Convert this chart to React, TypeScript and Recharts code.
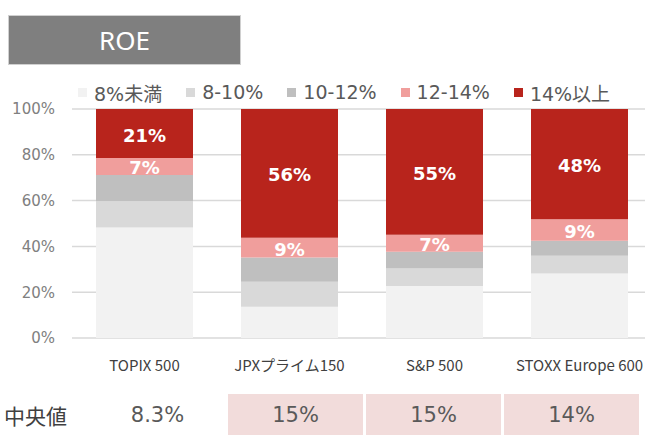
import React from 'react';
import { BarChart, Bar, XAxis, YAxis, CartesianGrid, LabelList } from 'recharts';

// ROE distribution by index (share of companies, %)
const indices = ['TOPIX 500', 'JPXプライム150', 'S&P 500', 'STOXX Europe 600'];
const bandNames = ['8%未満', '8-10%', '10-12%', '12-14%', '14%以上'];
const bandColors = ['#F2F2F2', '#D9D9D9', '#BFBFBF', '#F09E9C', '#B8241C'];

const under8 = [48.2, 13.7, 22.7, 28.2];
const from8to10 = [11.5, 10.9, 7.7, 7.7];
const from10to12 = [11.5, 10.5, 7.3, 6.6];
const from12to14 = [7.4, 8.7, 7.4, 9.4];
const over14 = [21.4, 56.2, 54.9, 48.1];

const yTicks = [0, 20, 40, 60, 80, 100];
const medianLabel = '中央値';
const medians = ['8.3%', '15%', '15%', '14%'];

const series = [under8, from8to10, from10to12, from12to14, over14];
const keys = ['b0', 'b1', 'b2', 'b3', 'b4'];

const data = indices.map((name, i) => {
  const row: Record<string, string | number> = { name };
  series.forEach((s, k) => {
    row[keys[k]] = s[i];
  });
  return row;
});

const latin = '"DejaVu Sans", "Noto Sans CJK JP", sans-serif';

function renderLabel(props: any) {
  const { x, y, width, height, value } = props;
  return (
    <text
      x={x + width / 2}
      y={y + height / 2 + 3}
      textAnchor="middle"
      dominantBaseline="middle"
      fill="#FFFFFF"
      fontSize={18}
      fontWeight="bold"
      fontFamily={latin}
    >
      {Math.round(value) + '%'}
    </text>
  );
}

export default function App() {
  return (
    <div
      style={{
        position: 'absolute',
        left: 0,
        top: 0,
        width: 645,
        height: 441,
        overflow: 'hidden',
        background: '#FFFFFF',
      }}
    >
      {/* title box */}
      <div
        style={{
          position: 'absolute',
          left: 8,
          top: 15,
          width: 233,
          height: 50,
          boxSizing: 'border-box',
          background: '#7F7F7F',
          border: '1px solid #D0D0D0',
          color: '#FFFFFF',
          fontFamily: '"Noto Sans", sans-serif',
          fontSize: 26,
          display: 'flex',
          alignItems: 'center',
          justifyContent: 'center',
        }}
      >
        ROE
      </div>

      {/* legend */}
      <div
        style={{
          position: 'absolute',
          left: 78,
          top: 80,
          height: 24,
          display: 'flex',
          alignItems: 'center',
          gap: 24,
          fontFamily: latin,
          fontSize: 19,
          color: '#595959',
          whiteSpace: 'nowrap',
        }}
      >
        {bandNames.map((n, i) => (
          <div key={n} style={{ display: 'flex', alignItems: 'center' }}>
            <span
              style={{
                display: 'inline-block',
                width: 9,
                height: 9,
                marginRight: 7,
                background: bandColors[i],
              }}
            />
            <span>{n}</span>
          </div>
        ))}
      </div>

      <div style={{ position: 'absolute', left: 0, top: 0 }}>
        <BarChart
          width={660}
          height={380}
          data={data}
          margin={{ top: 109, right: 8, left: 0, bottom: 12 }}
        >
          <CartesianGrid vertical={false} stroke="#D9D9D9" strokeWidth={1.5} />
          <XAxis
            dataKey="name"
            axisLine={false}
            tickLine={false}
            height={30}
            tickMargin={16}
            interval={0}
            tick={{ fill: '#404040', fontSize: 15, fontFamily: '"Noto Sans CJK JP", sans-serif' }}
          />
          <YAxis
            domain={[0, 100]}
            ticks={yTicks}
            width={72}
            axisLine={false}
            tickLine={false}
            tickMargin={11}
            tickFormatter={(v) => v + '%'}
            tick={{ fill: '#808080', fontSize: 15, fontFamily: latin }}
          />
          {keys.map((k, i) => (
            <Bar
              key={k}
              dataKey={k}
              name={bandNames[i]}
              stackId="roe"
              fill={bandColors[i]}
              barSize={97}
              isAnimationActive={false}
            >
              {i >= 3 && <LabelList dataKey={k} content={renderLabel} />}
            </Bar>
          ))}
        </BarChart>
      </div>

      {/* median row */}
      <div
        style={{
          position: 'absolute',
          left: 4,
          top: 394,
          height: 41,
          display: 'flex',
          alignItems: 'center',
          fontFamily: '"Noto Sans CJK JP", sans-serif',
          fontSize: 21,
          color: '#404040',
        }}
      >
        {medianLabel}
      </div>
      {medians.map((m, i) => (
        <div
          key={i}
          style={{
            position: 'absolute',
            left: 90 + i * 138,
            top: 394,
            width: 135,
            height: 41,
            background: i === 0 ? 'transparent' : '#F2DCDB',
            display: 'flex',
            alignItems: 'center',
            justifyContent: 'center',
            fontFamily: latin,
            fontSize: 21,
            color: '#595959',
          }}
        >
          {m}
        </div>
      ))}
    </div>
  );
}
